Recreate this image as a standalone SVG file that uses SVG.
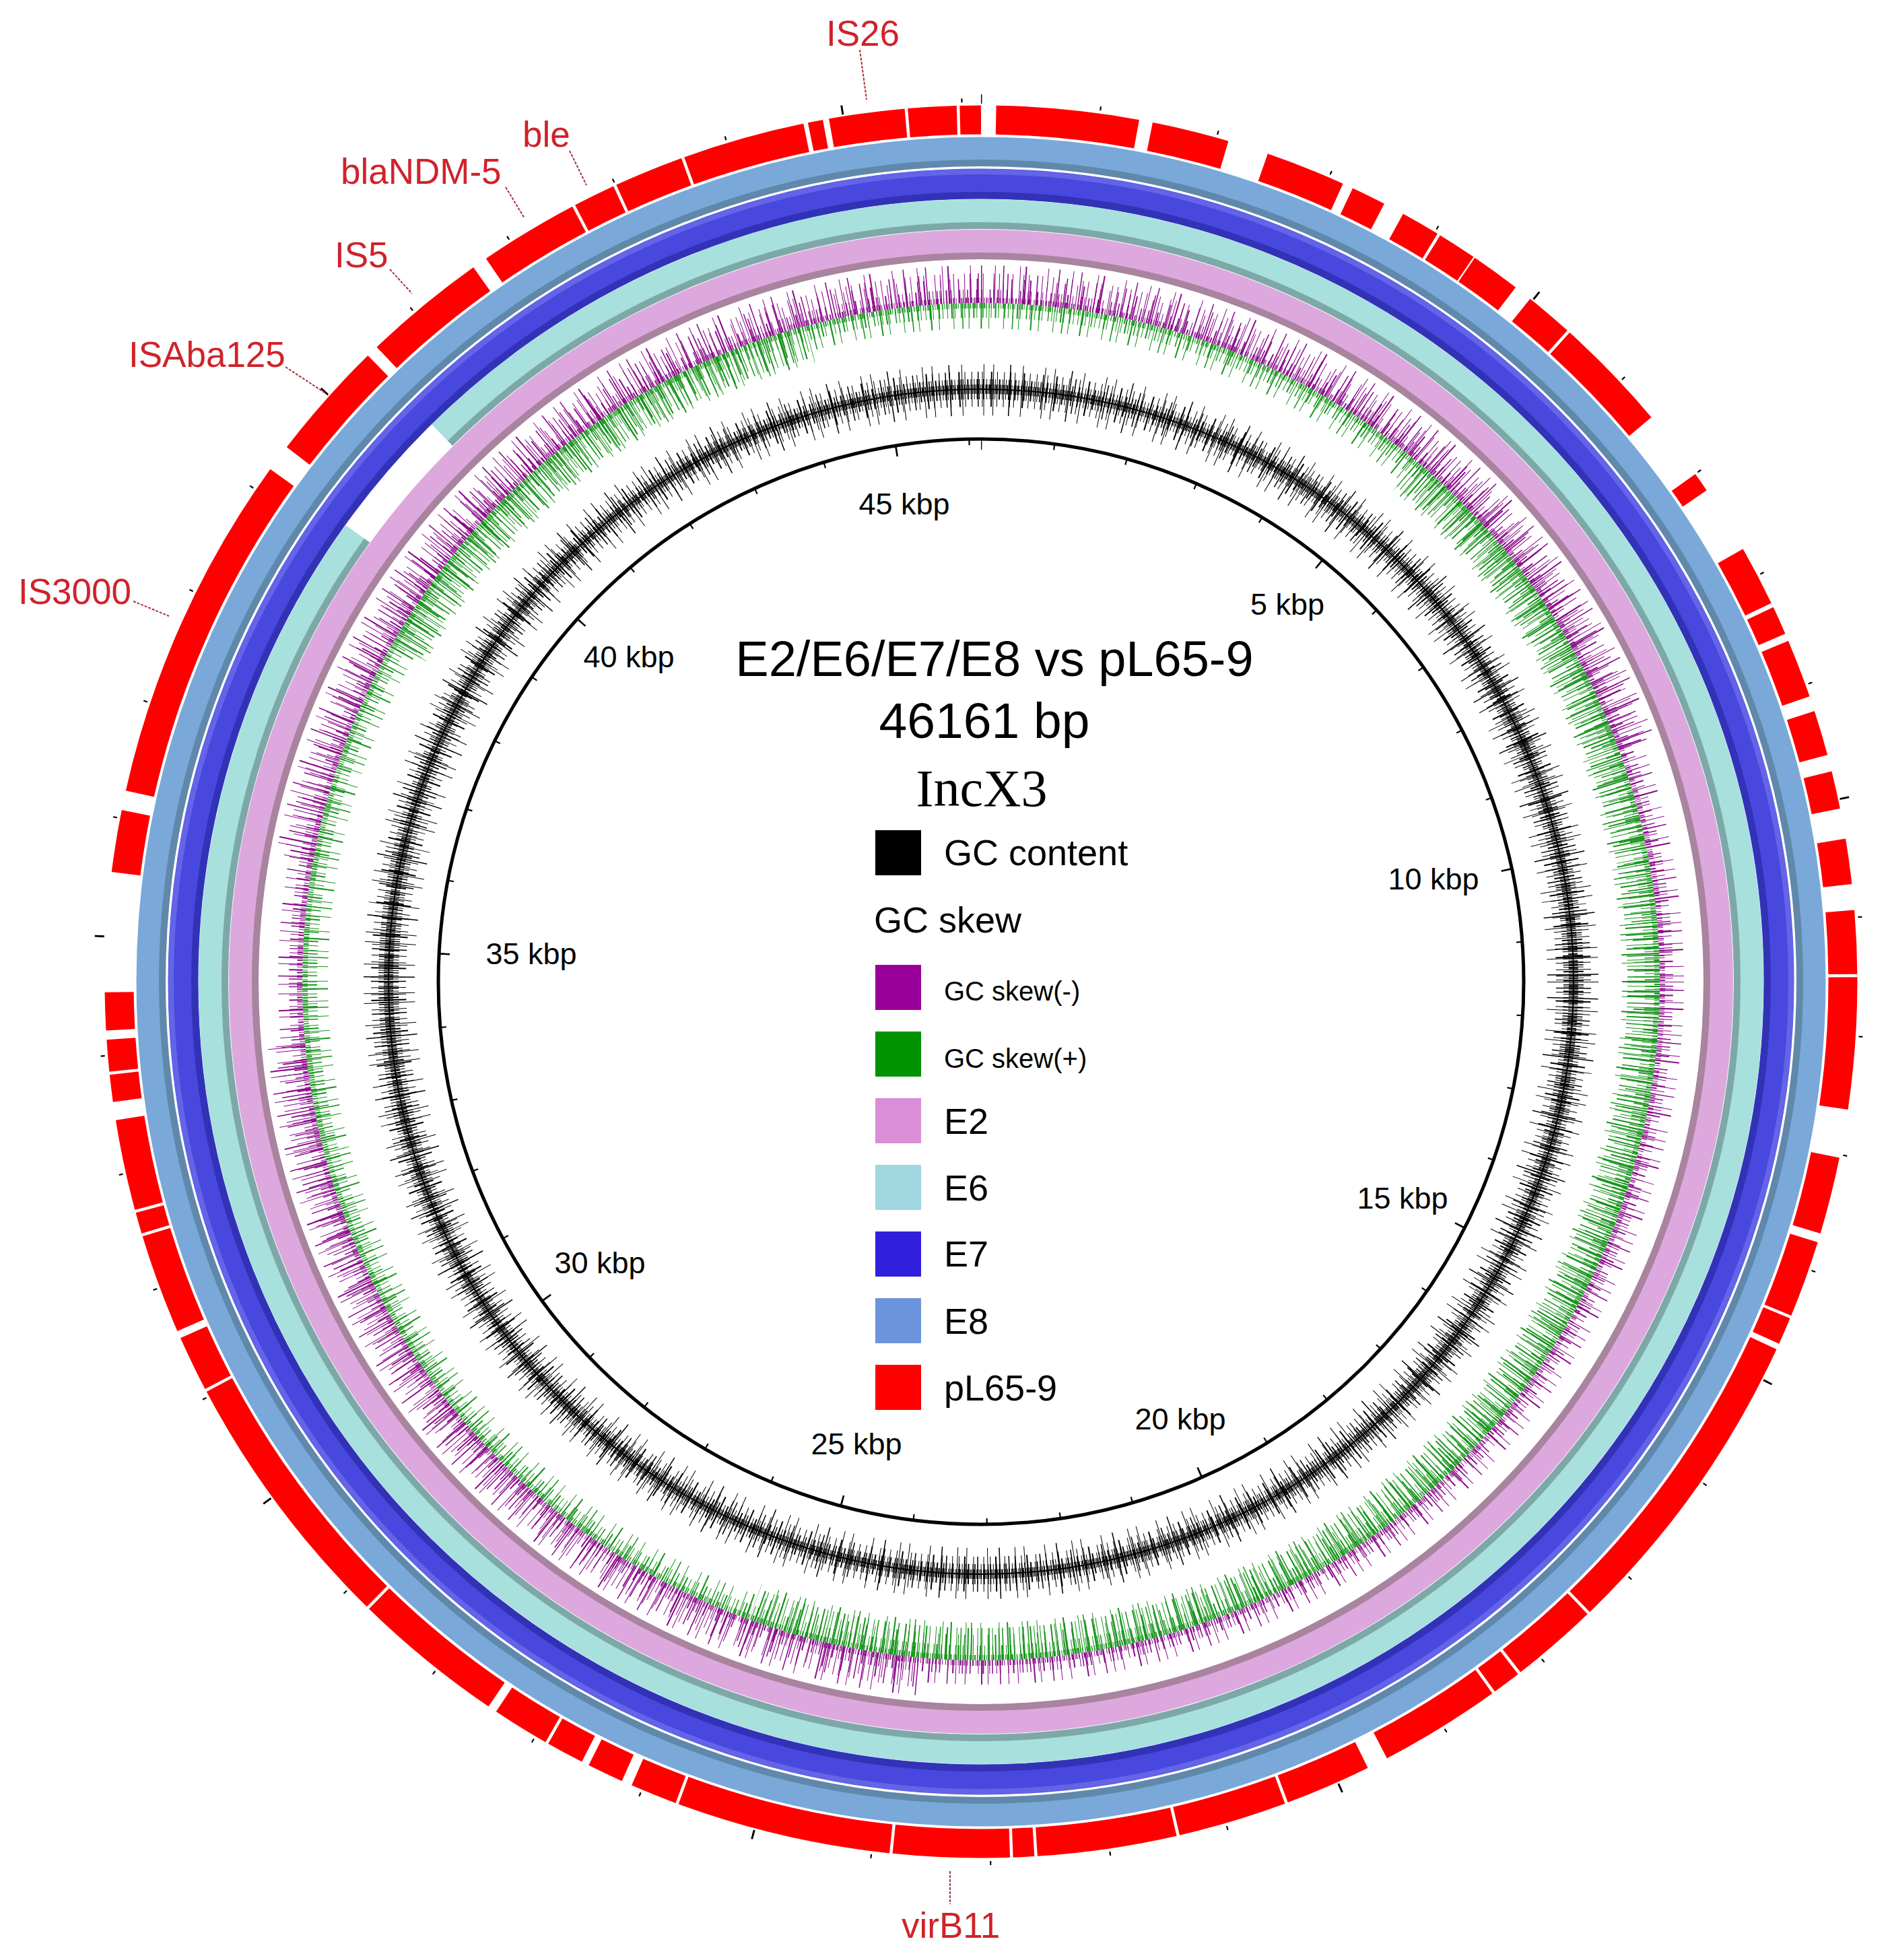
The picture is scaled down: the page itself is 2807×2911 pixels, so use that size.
<svg xmlns="http://www.w3.org/2000/svg" width="2807" height="2911" viewBox="0 0 2807 2911">
<style>
.sans{font-family:"Liberation Sans",Arial,sans-serif}
.lbl{font-family:"Liberation Sans",Arial,sans-serif;font-size:53px;fill:#d0222b}
.kbp{font-family:"Liberation Sans",Arial,sans-serif;font-size:45px;fill:#000;text-anchor:middle}
.leg{font-family:"Liberation Sans",Arial,sans-serif;font-size:54px;fill:#000}
.legs{font-family:"Liberation Sans",Arial,sans-serif;font-size:40px;fill:#000}
.lead{stroke:#a8323a;stroke-width:2;stroke-dasharray:4 2;fill:none}
.nf{fill:none}
.pur{fill:none;stroke:#8a0a8a}
.grn{fill:none;stroke:#17941b}
.blk{fill:none;stroke:#000}
</style>
<defs>
<mask id="mP" maskUnits="userSpaceOnUse" x="0" y="0" width="2807" height="2911">
<path d="M1457 448 A1010 1010 0 1 1 1457 2468 A1010 1010 0 1 1 1457 448" fill="none" stroke="#fff" stroke-width="160" pathLength="360" stroke-dasharray="70 115 80 15 80 0"/>
</mask>
<mask id="mG" maskUnits="userSpaceOnUse" x="0" y="0" width="2807" height="2911">
<path d="M1457 448 A1010 1010 0 1 1 1457 2468 A1010 1010 0 1 1 1457 448" fill="none" stroke="#fff" stroke-width="160" pathLength="360" stroke-dasharray="0 40 160 100 45 15"/>
</mask>
</defs>
<rect width="2807" height="2911" fill="#fff"/>

<g id="ring-pL65-9">
<path class="nf" d="M1457 178 A1280 1280 0 1 1 1457 2738 A1280 1280 0 1 1 1457 178" stroke="#ff0000" stroke-width="43" pathLength="360" stroke-dashoffset="-1" stroke-dasharray="9.4 .9 5.1 2.7 5.3 .7 2.3 1.4 2.6 .2 2.6 .1 3.3 1.2 3.2 .2 7.7 4.7 1.3 4.5 4.0 .3 1.9 .5 3.9 1.0 3.0 1.1 2.5 2.0 3.0 1.7 4.2 .2 8.7 3.2 5.1 .6 5.1 .2 1.8 .4 21.2 .2 5.8 .2 1.9 .2 8.1 1.4 5.7 .2 7.2 .2 9.2 .2 1.4 .2 7.7 .2 14.2 .2 3.1 .7 2.4 .5 2.5 .2 3.8 .6 10.1 .2 17.6 .2 3.7 .5 6.6 .2 1.4 .2 6.0 1.2 1.8 .2 2.1 .6 2.5 7.9 4.1 1.3 23.2 1.8 8.0 .8 8.2 1.0 6.6 .2 2.8 .2 4.6 .2 8.1 .3 1.0 .4 5.0 .2 3.2 .2 1.4 1.0"/>
</g>

<g id="ring-E8">
<circle class="nf" cx="1457" cy="1458" r="1233" stroke="#7aa8d8" stroke-width="43"/>
<circle class="nf" cx="1457" cy="1458" r="1216" stroke="#6088aa" stroke-width="10"/>
</g>

<g id="ring-E7">
<circle class="nf" cx="1457" cy="1458" r="1185" stroke="#4848de" stroke-width="45"/>
<circle class="nf" cx="1457" cy="1458" r="1203" stroke="#6464e8" stroke-width="8"/>
<circle class="nf" cx="1457" cy="1458" r="1168" stroke="#3232b6" stroke-width="10"/>
</g>

<g id="ring-E6">
<path class="nf" d="M1457 318 A1140 1140 0 1 1 1457 2598 A1140 1140 0 1 1 1457 318" stroke="#a7e0dc" stroke-width="44" pathLength="360" stroke-dasharray="305.7 9.7 44.6 0"/>
<path class="nf" d="M1457 335 A1123 1123 0 1 1 1457 2581 A1123 1123 0 1 1 1457 335" stroke="#7ea8a8" stroke-width="10" pathLength="360" stroke-dasharray="305.7 9.7 44.6 0"/>
</g>

<g id="ring-E2">
<circle class="nf" cx="1457" cy="1458" r="1095" stroke="#dda8dd" stroke-width="44"/>
<circle class="nf" cx="1457" cy="1458" r="1078" stroke="#a8849e" stroke-width="10"/>
</g>

<g id="gc-skew">
<circle class="pur" cx="1457" cy="1458" r="1012" stroke-width="8" stroke-dasharray="1 2 1.5 1 1 3 2 2 1 4"/>
<circle class="pur" cx="1457" cy="1458" r="1018" stroke-width="20" stroke-dasharray="1 5 1.5 3 1 8 2 6 1 11 1.5 4"/>
<circle class="pur" cx="1457" cy="1458" r="1026" stroke-width="36" stroke-dasharray="1 11 1.5 17 1 8 2 23 1 13"/>
<g mask="url(#mP)">
<circle class="pur" cx="1457" cy="1458" r="1036" stroke-width="56" stroke-dasharray="1 11 1.5 23 1 7 2 31 1 15 1.5 19"/>
<circle class="pur" cx="1457" cy="1458" r="1030" stroke-width="44" stroke-dasharray="1 7 1 11 1.5 6 1 15"/>
</g>
<circle class="grn" cx="1457" cy="1458" r="1004" stroke-width="8" stroke-dasharray="1 2 2 1.5 1 3 1.5 2"/>
<circle class="grn" cx="1457" cy="1458" r="997" stroke-width="22" stroke-dasharray="1 5 2 3 1 8 1.5 4 1 6"/>
<circle class="grn" cx="1457" cy="1458" r="989" stroke-width="38" stroke-dasharray="1 12 1.5 8 1 17 2 10 1 21"/>
<g mask="url(#mG)">
<circle class="grn" cx="1457" cy="1458" r="980" stroke-width="56" stroke-dasharray="1 13 1.5 7 1 21 2 11 1 27"/>
<circle class="grn" cx="1457" cy="1458" r="984" stroke-width="48" stroke-dasharray="1.5 5 1 8 1 4 2 9"/>
</g>
</g>

<g id="gc-content">
<circle class="blk" cx="1457" cy="1458" r="880" stroke-width="2"/>
<circle class="blk" cx="1457" cy="1458" r="880" stroke-width="14" stroke-dasharray="1.5 1 1 2 2 1 1 1"/>
<circle class="blk" cx="1457" cy="1458" r="880" stroke-width="30" stroke-dasharray="1 3 1.5 2 1 5 2 3 1 4"/>
<circle class="blk" cx="1457" cy="1458" r="880" stroke-width="52" stroke-dasharray="1 8 1.5 5 1 12 2 7 1 9"/>
<circle class="blk" cx="1457" cy="1458" r="879" stroke-width="76" stroke-dasharray="1 23 1.5 17 1 31 1 13"/>
</g>

<g id="scale">
<circle class="nf" cx="1457" cy="1458" r="806" stroke="#000" stroke-width="5"/>
<path class="nf" d="M1457 660 A798 798 0 1 1 1457 2256 A798 798 0 1 1 1457 660" stroke="#000" stroke-width="16" pathLength="46161" stroke-dasharray="24 4976" stroke-dashoffset="12"/>
<path class="nf" d="M1457 657 A801 801 0 1 1 1457 2259 A801 801 0 1 1 1457 657" stroke="#000" stroke-width="8" pathLength="46161" stroke-dasharray="20 980" stroke-dashoffset="10"/>
<path class="nf" d="M1457 147 A1311 1311 0 1 1 1457 2769 A1311 1311 0 1 1 1457 147" stroke="#000" stroke-width="14" pathLength="46161" stroke-dasharray="16 4984" stroke-dashoffset="8"/>
<path class="nf" d="M1457 149 A1309 1309 0 1 1 1457 2767 A1309 1309 0 1 1 1457 149" stroke="#000" stroke-width="6" pathLength="46161" stroke-dasharray="12 988" stroke-dashoffset="6"/>
<text class="kbp" x="1343" y="764">45 kbp</text>
<text class="kbp" x="1912" y="913">5 kbp</text>
<text class="kbp" x="2129" y="1321">10 kbp</text>
<text class="kbp" x="2083" y="1795">15 kbp</text>
<text class="kbp" x="1753" y="2123">20 kbp</text>
<text class="kbp" x="1272" y="2160">25 kbp</text>
<text class="kbp" x="891" y="1891">30 kbp</text>
<text class="kbp" x="789" y="1432">35 kbp</text>
<text class="kbp" x="934" y="991">40 kbp</text>
</g>

<g id="feature-labels">
<line class="lead" x1="1277" y1="74" x2="1287" y2="148"/>
<line class="lead" x1="846" y1="224" x2="871" y2="275"/>
<line class="lead" x1="751" y1="278" x2="779" y2="324"/>
<line class="lead" x1="579" y1="400" x2="612" y2="436"/>
<line class="lead" x1="424" y1="545" x2="485" y2="585"/>
<line class="lead" x1="198" y1="893" x2="251" y2="915"/>
<line class="lead" x1="1411" y1="2779" x2="1411" y2="2828"/>
<text class="lbl" x="1227" y="68">IS26</text>
<text class="lbl" x="776" y="218">ble</text>
<text class="lbl" x="506" y="273">blaNDM-5</text>
<text class="lbl" x="497" y="397">IS5</text>
<text class="lbl" x="191" y="545">ISAba125</text>
<text class="lbl" x="27" y="897">IS3000</text>
<text class="lbl" x="1339" y="2878">virB11</text>
</g>

<g id="title">
<text class="sans" x="1477" y="1004" font-size="74" text-anchor="middle">E2/E6/E7/E8 vs pL65-9</text>
<text class="sans" x="1462" y="1096" font-size="75" text-anchor="middle">46161 bp</text>
<text x="1458" y="1197" font-family="'Liberation Serif','Times New Roman',serif" font-size="78" text-anchor="middle">IncX3</text>
</g>

<g id="legend">
<rect x="1300" y="1233" width="68" height="67" fill="#000"/>
<text class="leg" x="1402" y="1285">GC content</text>
<text class="leg" x="1298" y="1385">GC skew</text>
<rect x="1300" y="1433" width="68" height="67" fill="#990099"/>
<text class="legs" x="1402" y="1486">GC skew(-)</text>
<rect x="1300" y="1532" width="68" height="67" fill="#009200"/>
<text class="legs" x="1402" y="1586">GC skew(+)</text>
<rect x="1300" y="1631" width="68" height="67" fill="#da8ed8"/>
<text class="leg" x="1402" y="1684">E2</text>
<rect x="1300" y="1730" width="68" height="67" fill="#9fd6e0"/>
<text class="leg" x="1402" y="1783">E6</text>
<rect x="1300" y="1829" width="68" height="67" fill="#3020dd"/>
<text class="leg" x="1402" y="1881">E7</text>
<rect x="1300" y="1928" width="68" height="67" fill="#6c94dc"/>
<text class="leg" x="1402" y="1981">E8</text>
<rect x="1300" y="2027" width="68" height="67" fill="#ff0000"/>
<text class="leg" x="1402" y="2080">pL65-9</text>
</g>
</svg>
